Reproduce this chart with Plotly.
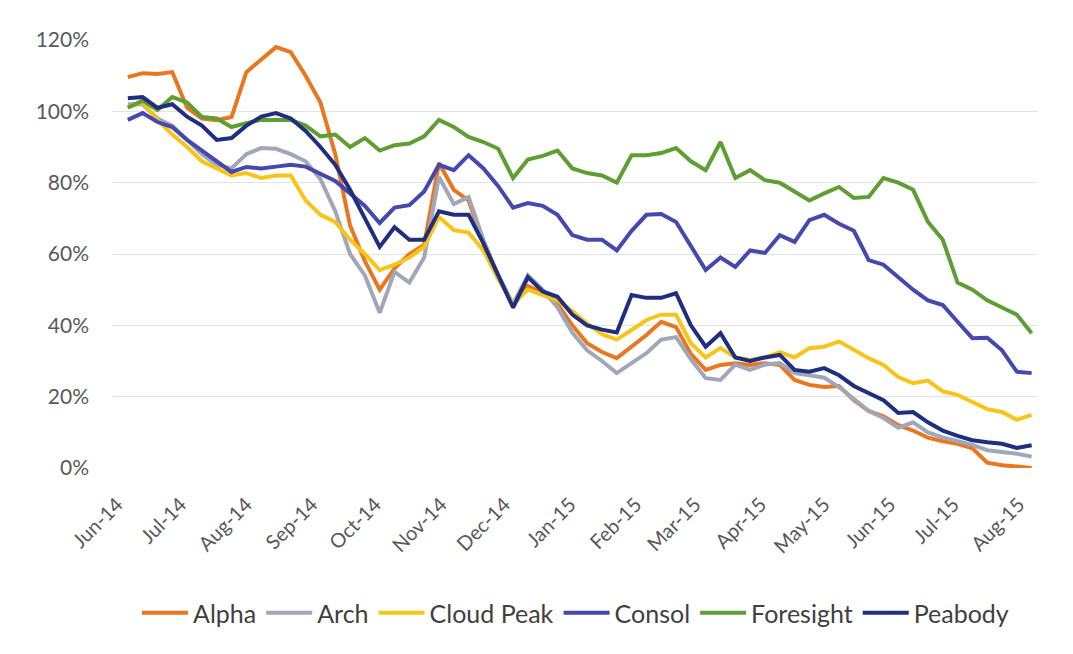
import pandas as pd
import plotly.graph_objects as go

# Weekly observations (Fridays)
dates = pd.date_range("2014-06-06", periods=62, freq="7D")

alpha = [109.6, 110.7, 110.5, 111, 101, 98, 97.5, 98.4, 111, 114.5, 118, 116.6, 110, 102.5, 88, 68,
         58, 50, 56, 60, 62.5, 85.5, 78, 75, 63, 54, 45.5, 51, 49, 46, 40, 35,
         32.5, 30.8, 34, 37.3, 41, 39.5, 32, 27.5, 28.9, 29.4, 28.9, 29.4, 28.9, 24.7, 23.3, 22.7,
         23, 19, 16, 14.5, 12, 10.5, 8.5, 7.5, 6.8, 5.5, 1.5, 0.8, 0.4, 0]
arch = [102, 102, 98, 96, 92, 88, 85, 84, 88, 89.7, 89.5, 88, 86, 81, 72, 60,
        54, 43.5, 55, 52, 59, 81.6, 74, 76, 64, 54, 46, 54, 50, 45, 38, 33,
        30, 26.6, 29.4, 32.2, 36, 36.7, 30.5, 25.2, 24.7, 29, 27.5, 29, 29.4, 26.6, 26, 25.3,
        22.7, 19.5, 16, 14, 11.3, 12.8, 10, 8.6, 7.5, 6.5, 5, 4.5, 4, 3.2]
cloud_peak = [101.2, 102.5, 97.6, 93.5, 90, 86, 84, 82, 82.7, 81.3, 82, 82, 75, 71, 69, 64,
              60, 55.5, 57, 59, 62, 70.4, 66.7, 66, 61, 53, 46, 50, 48.5, 47, 44, 40.5,
              37.5, 36, 38.7, 41.5, 43, 43, 35, 31, 33.6, 31, 30.3, 31, 32.5, 31, 33.6, 34,
              35.5, 33, 30.8, 28.9, 25.5, 23.8, 24.5, 21.5, 20.5, 18.5, 16.5, 15.7, 13.5, 14.9]
consol = [97.6, 99.5, 97, 95.6, 92, 89, 86, 83, 84.4, 84, 84.5, 85, 84.5, 82.5, 80.5, 77,
          73.5, 68.7, 73, 73.7, 77.5, 85, 83.5, 87.7, 84, 79, 73, 74.3, 73.5, 71, 65.3, 64,
          64, 61, 66.5, 71, 71.2, 69, 62.5, 55.5, 59, 56.4, 61, 60.3, 65.3, 63.4, 69.5, 71,
          68.5, 66.5, 58.3, 57, 53.5, 50, 47, 45.7, 41, 36.4, 36.5, 33, 27, 26.6]
foresight = [101, 103, 100.4, 104, 102.5, 98.4, 98, 95.6, 96.7, 97.6, 97.6, 97.6, 96, 93, 93.5, 90,
             92.5, 89, 90.5, 91, 93, 97.6, 95.6, 92.8, 91.4, 89.5, 81.3, 86.5, 87.5, 89, 84, 82.7,
             82, 80, 87.7, 87.7, 88.3, 89.7, 86, 83.5, 91.4, 81.3, 83.5, 80.7, 80, 77.4, 75, 77,
             78.8, 75.7, 76, 81.3, 80, 78, 69, 64, 52, 50, 47, 45, 43, 37.8]
peabody = [103.7, 104, 101, 102, 98.5, 96, 92, 92.5, 96, 98.5, 99.5, 98, 94.5, 90, 85, 78,
           70, 62, 67.5, 64, 64, 72, 71, 71, 63, 54, 45, 53.5, 49.5, 48, 43, 40,
           38.8, 38, 48.5, 47.7, 47.7, 49, 40, 34, 37.8, 31, 30, 31, 31.7, 27.5, 27, 28,
           26, 23, 21, 19, 15.4, 15.7, 12.8, 10.5, 9, 7.8, 7.2, 6.8, 5.6, 6.4]

series_names = ["Alpha", "Arch", "Cloud Peak", "Consol", "Foresight", "Peabody"]
series_values = [alpha, arch, cloud_peak, consol, foresight, peabody]
colors = ["#E8771F", "#A0A7B9", "#F7C51A", "#4549AE", "#5F9E33", "#1F2E7E"]

y_ticks = [0, 0.2, 0.4, 0.6, 0.8, 1.0, 1.2]
y_tick_labels = ["0%", "20%", "40%", "60%", "80%", "100%", "120%"]

FONT = "Lato"

fig = go.Figure()
for name, vals, col in zip(series_names, series_values, colors):
    fig.add_trace(go.Scatter(
        x=dates, y=[v / 100 for v in vals], mode="lines", name=name,
        line=dict(color=col, width=4),
    ))

fig.update_layout(
    width=1073, height=654,
    paper_bgcolor="white", plot_bgcolor="white",
    margin=dict(l=105, r=43, t=32, b=194),
    font=dict(family=FONT, color="#595959"),
    showlegend=True,
    legend=dict(
        orientation="h", x=0.5, xanchor="center", y=-0.339, yanchor="middle",
        font=dict(size=25, color="#404040", family=FONT),
        itemwidth=46, traceorder="normal",
    ),
    xaxis=dict(
        type="date",
        range=["2014-05-30", "2015-08-10"],
        tick0="2014-06-01", dtick="M1", tickformat="%b-%y",
        tickangle=-45, tickfont=dict(size=20, color="#595959"),
        showgrid=False, zeroline=False, showline=False, ticks="",
        ticklabelstandoff=20,
    ),
    yaxis=dict(
        range=[0, 1.2], tickvals=y_ticks, ticktext=y_tick_labels,
        tickfont=dict(size=21, color="#595959"),
        showgrid=True, gridcolor="#E3E3E3", gridwidth=1,
        zeroline=False, showline=False, ticks="",
        ticklabelstandoff=23,
    ),
)

fig.write_html("out.html")
